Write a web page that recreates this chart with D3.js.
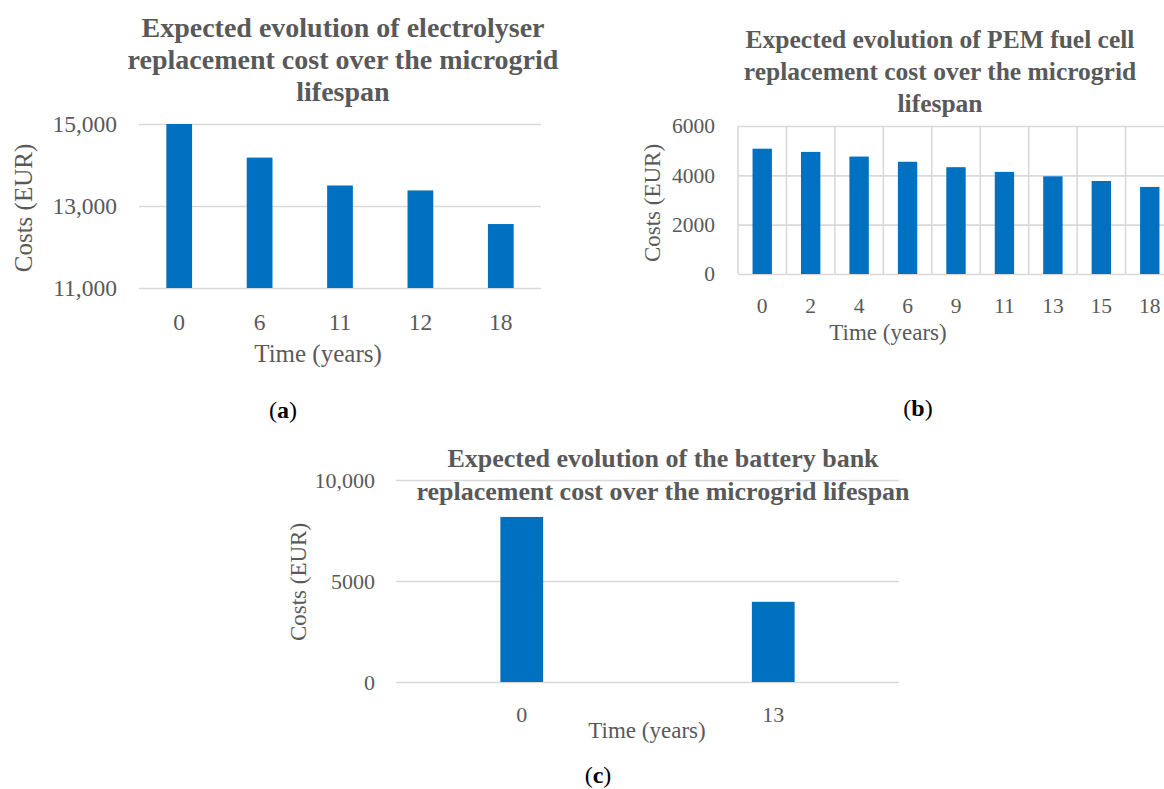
<!DOCTYPE html>
<html>
<head>
    <title>Replacement cost evolution | Microgrid</title>
    <script src="https://d3js.org/d3.v7.min.js"></script>
    <style>
        body {
            margin: 0;
            background: #ffffff;
        }
        svg text {
            font-family: "Palatino Linotype", "Book Antiqua", Palatino, "Liberation Serif", serif;
        }
        .chart-title {
            fill: #595959;
            font-weight: bold;
        }
        .axis-label {
            fill: #595959;
        }
        .panel-tag {
            fill: #000000;
        }
    </style>
</head>
<body>
    <div id="chart"></div>

    <script>
        // (a) electrolyser
        const yearsA = ["0", "6", "11", "12", "18"];
        const costsA = [15000, 14180, 13500, 13380, 12560];
        const ticksA = [11000, 13000, 15000];
        const tickLabelsA = ["11,000", "13,000", "15,000"];
        const titleA = ["Expected evolution of electrolyser", "replacement cost over the microgrid", "lifespan"];

        // (b) PEM fuel cell
        const yearsB = ["0", "2", "4", "6", "9", "11", "13", "15", "18"];
        const costsB = [5080, 4950, 4760, 4550, 4330, 4140, 3960, 3770, 3530];
        const ticksB = [0, 2000, 4000, 6000];
        const tickLabelsB = ["0", "2000", "4000", "6000"];
        const titleB = ["Expected evolution of PEM fuel cell", "replacement cost over the microgrid", "lifespan"];

        // (c) battery bank
        const yearsC = ["0", "13"];
        const costsC = [8170, 3970];
        const ticksC = [0, 5000, 10000];
        const tickLabelsC = ["0", "5000", "10,000"];
        const titleC = ["Expected evolution of the battery bank", "replacement cost over the microgrid lifespan"];

        const width = 1164;
        const height = 789;
        const barColor = "#0070c0";
        const gridColor = "#d9d9d9";

        const svg = d3.select("#chart").append("svg")
            .attr("width", width)
            .attr("height", height);

        svg.append("rect")
            .attr("width", width)
            .attr("height", height)
            .attr("fill", "#ffffff");

        const drawPanel = p => {
            const g = svg.append("g");

            const xScale = d3.scaleBand()
                .domain(p.cats)
                .range([p.left, p.right])
                .paddingInner(p.padIn)
                .paddingOuter(p.padOut);

            const yScale = d3.scaleLinear()
                .domain(p.domain)
                .range([p.bottom, p.top]);

            // horizontal gridlines + tick labels
            const yAxis = d3.axisLeft(yScale)
                .tickValues(p.ticks)
                .tickFormat((d, i) => p.tickLabels[i])
                .tickSize(-(p.right - p.left))
                .tickPadding(p.yPad);

            const yAxisG = g.append("g")
                .attr("transform", `translate(${p.left},0)`)
                .call(yAxis);
            yAxisG.select(".domain").remove();
            yAxisG.selectAll(".tick line")
                .attr("stroke", gridColor)
                .attr("stroke-width", 1.6);
            yAxisG.selectAll(".tick text")
                .attr("fill", "#595959")
                .style("font-size", p.tickSize + "px");

            // vertical category gridlines (panel b only)
            if (p.vGrid) {
                const step = xScale.step();
                g.selectAll(".vgrid")
                    .data(d3.range(p.cats.length + 1))
                    .enter().append("line")
                    .attr("class", "vgrid")
                    .attr("x1", i => p.left + i * step)
                    .attr("x2", i => p.left + i * step)
                    .attr("y1", p.top)
                    .attr("y2", p.bottom)
                    .attr("stroke", gridColor)
                    .attr("stroke-width", 1.6);
            }

            g.selectAll(".bar")
                .data(p.values)
                .enter().append("rect")
                .attr("class", "bar")
                .attr("x", (d, i) => xScale(p.cats[i]))
                .attr("width", xScale.bandwidth())
                .attr("y", d => yScale(d))
                .attr("height", d => yScale(p.domain[0]) - yScale(d))
                .attr("fill", barColor);

            const xAxis = d3.axisBottom(xScale)
                .tickSize(0)
                .tickPadding(0);

            const xAxisG = g.append("g")
                .attr("transform", `translate(0,${p.bottom})`)
                .call(xAxis);
            xAxisG.select(".domain").remove();
            xAxisG.selectAll(".tick text")
                .attr("dy", null)
                .attr("y", p.xPad)
                .attr("fill", "#595959")
                .style("font-size", p.tickSize + "px");

            // axis titles
            g.append("text")
                .attr("class", "axis-label")
                .attr("x", p.xTitle[0])
                .attr("y", p.xTitle[1])
                .attr("text-anchor", "middle")
                .style("font-size", p.labelSize + "px")
                .text("Time (years)");

            g.append("text")
                .attr("class", "axis-label")
                .attr("transform", `translate(${p.yTitle[0]},${p.yTitle[1]}) rotate(-90)`)
                .attr("text-anchor", "middle")
                .attr("dy", "0.35em")
                .style("font-size", p.labelSize + "px")
                .text("Costs (EUR)");

            // chart title
            g.selectAll(".chart-title")
                .data(p.title)
                .enter().append("text")
                .attr("class", "chart-title")
                .attr("x", p.titleX)
                .attr("y", (d, i) => p.titleY + i * p.titleGap)
                .attr("text-anchor", "middle")
                .style("font-size", p.titleSize + "px")
                .text(d => d);

            // panel tag like (a)
            const tag = g.append("text")
                .attr("class", "panel-tag")
                .attr("x", p.tag[0])
                .attr("y", p.tag[1])
                .attr("text-anchor", "middle")
                .style("font-size", "24px");
            tag.append("tspan").text("(");
            tag.append("tspan").attr("font-weight", "bold").text(p.letter);
            tag.append("tspan").text(")");
        };

        drawPanel({
            cats: yearsA, values: costsA, ticks: ticksA, tickLabels: tickLabelsA, title: titleA,
            domain: [11000, 15000], left: 139, right: 541, top: 124, bottom: 288,
            padIn: 0.68, padOut: 0.34, yPad: 22, xPad: 42, tickSize: 23.5, labelSize: 25,
            xTitle: [318, 362], yTitle: [23, 208],
            titleX: 343, titleY: 37, titleGap: 32, titleSize: 28,
            tag: [283, 418], letter: "a"
        });

        drawPanel({
            cats: yearsB, values: costsB, ticks: ticksB, tickLabels: tickLabelsB, title: titleB,
            domain: [0, 6000], left: 738, right: 1174, top: 126, bottom: 274,
            padIn: 0.6, padOut: 0.3, yPad: 23, xPad: 39, tickSize: 21.5, labelSize: 23,
            xTitle: [888, 340], yTitle: [652, 203], vGrid: true,
            titleX: 940, titleY: 48, titleGap: 32, titleSize: 25.5,
            tag: [918, 416], letter: "b"
        });

        drawPanel({
            cats: yearsC, values: costsC, ticks: ticksC, tickLabels: tickLabelsC, title: titleC,
            domain: [0, 10000], left: 396, right: 899, top: 480, bottom: 682,
            padIn: 0.83, padOut: 0.415, yPad: 21, xPad: 40, tickSize: 22, labelSize: 23,
            xTitle: [647, 738], yTitle: [298, 582],
            titleX: 663, titleY: 467, titleGap: 33, titleSize: 26,
            tag: [598, 783], letter: "c"
        });
    </script>
</body>
</html>
